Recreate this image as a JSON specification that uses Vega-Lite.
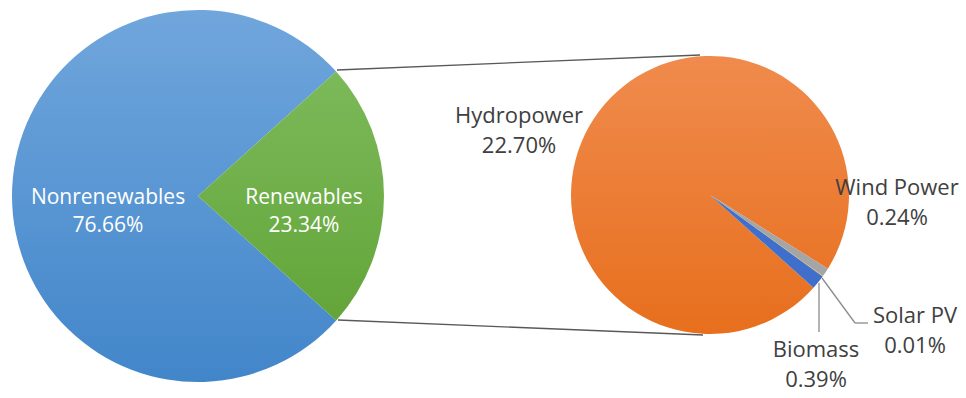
{
  "$schema": "https://vega.github.io/schema/vega-lite/v6.json",
  "width": 966,
  "height": 398,
  "autosize": {"type": "fit", "contains": "padding"},
  "padding": 0,
  "background": "white",
  "config": {"view": {"stroke": null}, "axis": {"disable": true}},
  "datasets": {
    "shares": [
      {"group": "All sources", "source": "Nonrenewables", "share": 76.66},
      {"group": "All sources", "source": "Renewables", "share": 23.34},
      {"group": "Renewables", "source": "Hydropower", "share": 22.70},
      {"group": "Renewables", "source": "Wind Power", "share": 0.24},
      {"group": "Renewables", "source": "Solar PV", "share": 0.01},
      {"group": "Renewables", "source": "Biomass", "share": 0.39}
    ]
  },
  "data": {"name": "shares"},
  "transform": [
    {"calculate": "datum.source + '\\n' + format(datum.share, '.2f') + '%'", "as": "label"},
    {"calculate": "indexof(['Nonrenewables', 'Renewables', 'Wind Power', 'Solar PV', 'Biomass', 'Hydropower'], datum.source)", "as": "slot"}
  ],
  "layer": [
    {
      "transform": [{"filter": "datum.group == 'All sources'"}],
      "layer": [
        {
          "mark": {"type": "arc", "radius": 186},
          "encoding": {
            "x": {"datum": 198, "type": "quantitative", "scale": {"domain": [0, 966], "nice": false, "zero": false}},
            "y": {"datum": 196, "type": "quantitative", "scale": {"domain": [0, 398], "nice": false, "zero": false, "reverse": true}},
            "theta": {"field": "share", "type": "quantitative", "stack": true, "scale": {"range": [2.3038, 8.5870]}},
            "order": {"field": "slot", "type": "quantitative"},
            "color": {
              "condition": {
                "test": "datum.source == 'Renewables'",
                "value": {"gradient": "linear", "x1": 0, "y1": 0, "x2": 0, "y2": 1, "stops": [{"offset": 0, "color": "#7cb95a"}, {"offset": 1, "color": "#63a539"}]}
              },
              "value": {"gradient": "linear", "x1": 0, "y1": 0, "x2": 0, "y2": 1, "stops": [{"offset": 0, "color": "#70a6dc"}, {"offset": 1, "color": "#4286ca"}]}
            }
          }
        },
        {
          "mark": {"type": "text", "radius": 98, "dx": 8, "dy": 8, "align": "center", "baseline": "alphabetic", "lineBreak": "\n", "lineHeight": 28, "font": "Open Sans", "fontSize": 21, "fill": "white"},
          "encoding": {
            "x": {"datum": 198, "type": "quantitative", "scale": {"domain": [0, 966], "nice": false, "zero": false}},
            "y": {"datum": 196, "type": "quantitative", "scale": {"domain": [0, 398], "nice": false, "zero": false, "reverse": true}},
            "theta": {"field": "share", "type": "quantitative", "stack": true, "scale": {"range": [2.3038, 8.5870]}},
            "order": {"field": "slot", "type": "quantitative"},
            "text": {"field": "label", "type": "nominal"}
          }
        }
      ]
    },
    {
      "transform": [{"filter": "datum.group == 'Renewables'"}],
      "mark": {"type": "arc", "radius": 139},
      "encoding": {
        "x": {"datum": 710, "type": "quantitative", "scale": {"domain": [0, 966], "nice": false, "zero": false}},
        "y": {"datum": 195, "type": "quantitative", "scale": {"domain": [0, 398], "nice": false, "zero": false, "reverse": true}},
        "theta": {"field": "share", "type": "quantitative", "stack": true, "scale": {"range": [2.1293, 8.4125]}},
        "order": {"field": "slot", "type": "quantitative"},
        "color": {
          "condition": [
            {"test": "datum.source == 'Wind Power'", "value": "#a5a5a5"},
            {"test": "datum.source == 'Solar PV'", "value": "#ffc000"},
            {"test": "datum.source == 'Biomass'", "value": "#3f6fcb"}
          ],
          "value": {"gradient": "linear", "x1": 0, "y1": 0, "x2": 0, "y2": 1, "stops": [{"offset": 0, "color": "#f08b4d"}, {"offset": 1, "color": "#e76f1d"}]}
        }
      }
    },
    {
      "data": {"values": [{}]},
      "mark": {"type": "rule", "color": "#595959", "strokeWidth": 1.3},
      "encoding": {
        "x": {"datum": 337, "type": "quantitative"},
        "y": {"datum": 70, "type": "quantitative"},
        "x2": {"datum": 700},
        "y2": {"datum": 55}
      }
    },
    {
      "data": {"values": [{}]},
      "mark": {"type": "rule", "color": "#595959", "strokeWidth": 1.3},
      "encoding": {
        "x": {"datum": 338, "type": "quantitative"},
        "y": {"datum": 320, "type": "quantitative"},
        "x2": {"datum": 703},
        "y2": {"datum": 335}
      }
    },
    {
      "data": {"values": [{}]},
      "mark": {"type": "rule", "color": "#8c8c8c", "strokeWidth": 1.3},
      "encoding": {
        "x": {"datum": 819, "type": "quantitative"},
        "y": {"datum": 283, "type": "quantitative"},
        "x2": {"datum": 819},
        "y2": {"datum": 332}
      }
    },
    {
      "data": {"values": [{}]},
      "mark": {"type": "rule", "color": "#8c8c8c", "strokeWidth": 1.3},
      "encoding": {
        "x": {"datum": 822, "type": "quantitative"},
        "y": {"datum": 278, "type": "quantitative"},
        "x2": {"datum": 855},
        "y2": {"datum": 323}
      }
    },
    {
      "data": {"values": [{}]},
      "mark": {"type": "rule", "color": "#8c8c8c", "strokeWidth": 1.3},
      "encoding": {
        "x": {"datum": 855, "type": "quantitative"},
        "y": {"datum": 323, "type": "quantitative"},
        "x2": {"datum": 868},
        "y2": {"datum": 323}
      }
    },
    {
      "transform": [{"filter": "datum.source == 'Hydropower'"}],
      "mark": {"type": "text", "align": "center", "baseline": "alphabetic", "lineBreak": "\n", "lineHeight": 30, "font": "Open Sans", "fontSize": 22, "fill": "#404040"},
      "encoding": {
        "x": {"datum": 519, "type": "quantitative"},
        "y": {"datum": 123, "type": "quantitative"},
        "text": {"field": "label", "type": "nominal"}
      }
    },
    {
      "transform": [{"filter": "datum.source == 'Wind Power'"}],
      "mark": {"type": "text", "align": "center", "baseline": "alphabetic", "lineBreak": "\n", "lineHeight": 30, "font": "Open Sans", "fontSize": 22, "fill": "#404040"},
      "encoding": {
        "x": {"datum": 897, "type": "quantitative"},
        "y": {"datum": 195, "type": "quantitative"},
        "text": {"field": "label", "type": "nominal"}
      }
    },
    {
      "transform": [{"filter": "datum.source == 'Solar PV'"}],
      "mark": {"type": "text", "align": "center", "baseline": "alphabetic", "lineBreak": "\n", "lineHeight": 30, "font": "Open Sans", "fontSize": 22, "fill": "#404040"},
      "encoding": {
        "x": {"datum": 915, "type": "quantitative"},
        "y": {"datum": 323, "type": "quantitative"},
        "text": {"field": "label", "type": "nominal"}
      }
    },
    {
      "transform": [{"filter": "datum.source == 'Biomass'"}],
      "mark": {"type": "text", "align": "center", "baseline": "alphabetic", "lineBreak": "\n", "lineHeight": 30, "font": "Open Sans", "fontSize": 22, "fill": "#404040"},
      "encoding": {
        "x": {"datum": 816, "type": "quantitative"},
        "y": {"datum": 357, "type": "quantitative"},
        "text": {"field": "label", "type": "nominal"}
      }
    }
  ],
  "resolve": {"scale": {"theta": "independent"}}
}
